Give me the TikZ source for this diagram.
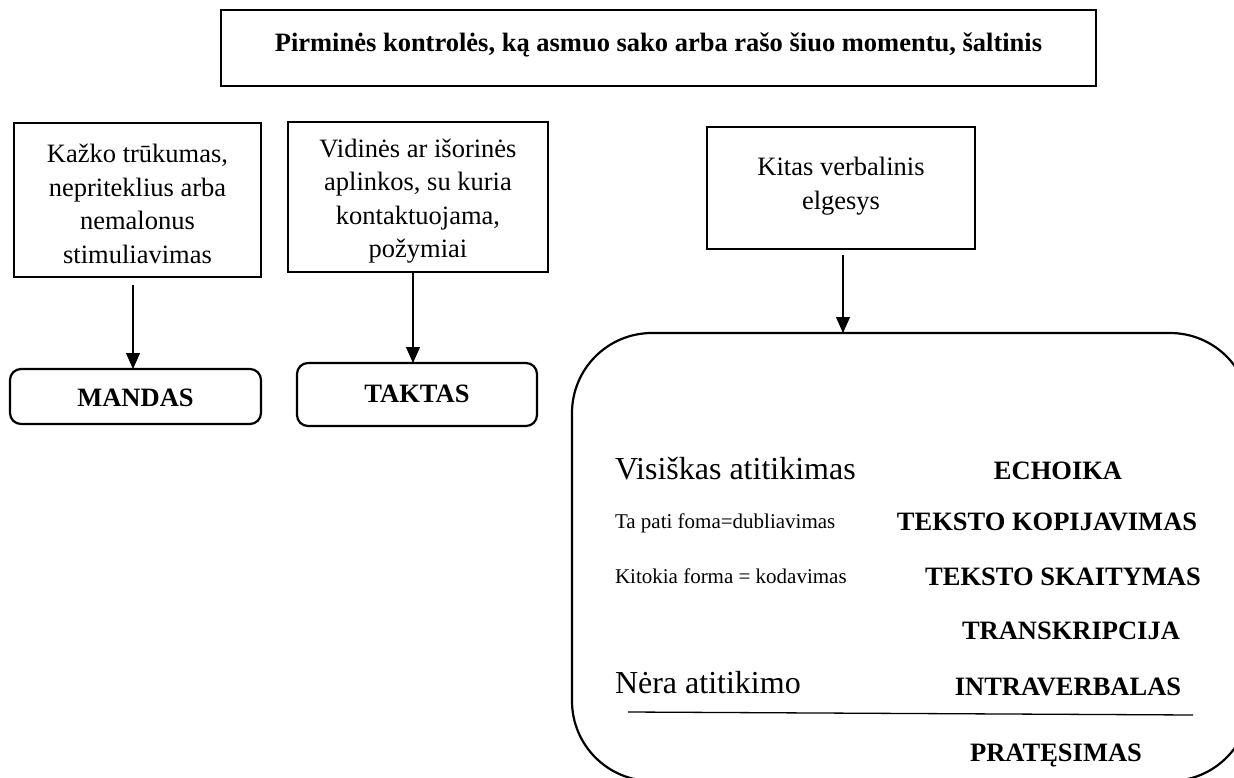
\documentclass[tikz,border=0pt]{standalone}
\usepackage{fontspec}
\setmainfont{Liberation Serif}
\usetikzlibrary{arrows.meta,calc}
\begin{document}
\begin{tikzpicture}[x=1pt,y=-1pt,
  every node/.style={inner sep=0pt, outer sep=0pt},
  plainbox/.style={draw, line width=1.6pt},
  roundbox/.style={draw, line width=2.2pt, rounded corners=11pt},
  bigbox/.style={draw, line width=2.2pt, rounded corners=80pt},
  arr/.style={line width=1.1pt, -{Triangle[width=14pt,length=16pt]}},
  txt/.style={font=\fontsize{26.5}{33.5}\selectfont, align=center},
  btxt/.style={font=\fontsize{26.5}{33.5}\selectfont\bfseries},
  bigtxt/.style={font=\fontsize{32}{38}\selectfont},
  smalltxt/.style={font=\fontsize{21}{25}\selectfont},
  rule/.style={line width=1.3pt}
]
\useasboundingbox (0,0) rectangle (1234,778);
\clip (0,0) rectangle (1234,778);

% title
\node[plainbox, minimum width=875pt, minimum height=76pt] (title) at (658.5,48) {};
\node[btxt, anchor=base] (titletext) at (658.5,52) {Pirminės kontrolės, ką asmuo sako arba rašo šiuo momentu, šaltinis};

% upper boxes
\node[plainbox, minimum width=247pt, minimum height=154pt] (box1) at (137.5,200) {};
\node[txt] (box1t) at (137.5,204) {Kažko trūkumas,\\nepriteklius arba\\nemalonus\\stimuliavimas};

\node[plainbox, minimum width=260pt, minimum height=150pt] (box2) at (418,197) {};
\node[txt] (box2t) at (418,201) {Vidinės ar išorinės\\aplinkos, su kuria\\kontaktuojama,\\požymiai};

\node[plainbox, minimum width=268pt, minimum height=122pt] (box3) at (841,188) {};
\node[txt] (box3t) at (841,186) {Kitas verbalinis\\elgesys};

% rounded result boxes
\node[roundbox, minimum width=251pt, minimum height=55pt] (mandas) at (135.5,396.5) {};
\node[btxt] (mandast) at (135.5,398) {MANDAS};
\node[roundbox, minimum width=240pt, minimum height=63pt] (taktas) at (417,394.5) {};
\node[btxt] (taktast) at (417,394) {TAKTAS};

% big box
\node[bigbox, minimum width=678pt, minimum height=448pt] (big) at (911,557) {};

% arrows
\draw[arr] ([xshift=-4.5pt,yshift=-8pt]box1.south) -- ([xshift=-2.5pt]mandas.north);
\draw[arr] ([xshift=-5pt]box2.south) -- ([xshift=-4pt]taktas.north);
\draw[arr] ([xshift=2pt,yshift=-6pt]box3.south) -- ([xshift=-68pt]big.north);

% contents of big box
\node[bigtxt, anchor=base west] (vis) at (615,479) {Visiškas atitikimas};
\node[btxt, anchor=base] (echo) at (1058,479) {ECHOIKA};
\node[smalltxt, anchor=base west] (tapati) at (615,528) {Ta pati foma=dubliavimas};
\node[btxt, anchor=base] (kop) at (1047,530) {TEKSTO KOPIJAVIMAS};
\node[smalltxt, anchor=base west] (kitokia) at (615,583) {Kitokia forma = kodavimas};
\node[btxt, anchor=base] (skait) at (1063,585) {TEKSTO SKAITYMAS};
\node[btxt, anchor=base] (trans) at (1071,639) {TRANSKRIPCIJA};
\node[bigtxt, anchor=base west] (nera) at (615,693) {Nėra atitikimo};
\node[btxt, anchor=base] (intra) at (1068,695) {INTRAVERBALAS};
\coordinate (ruleL) at (628,712);
\coordinate (ruleR) at (1193,715);
\draw[rule] (ruleL) -- (ruleR);
\node[btxt, anchor=base] (prat) at (1056,761) {PRATĘSIMAS};
\end{tikzpicture}
\end{document}
